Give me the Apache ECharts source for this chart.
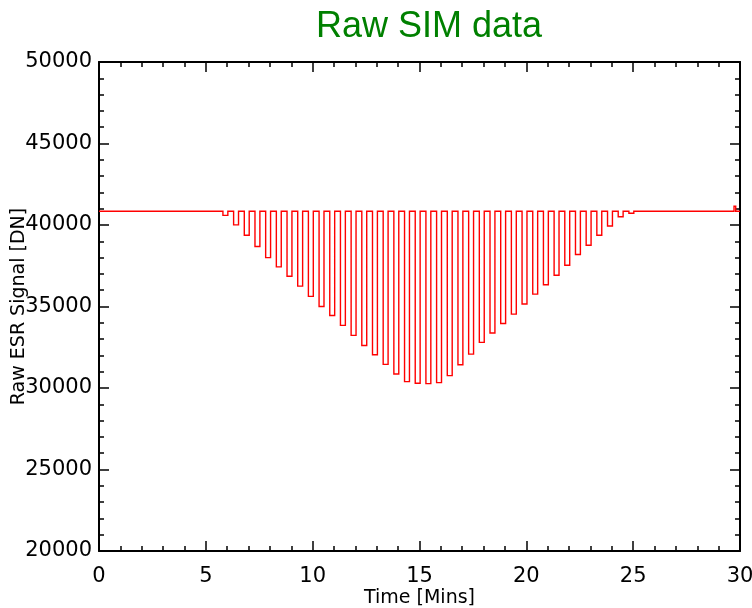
<!DOCTYPE html>
<html>
<head>
<meta charset="utf-8">
<title>Raw SIM data</title>
<script src="https://cdn.jsdelivr.net/npm/echarts@6/dist/echarts.min.js"></script>
<style>
  html, body { margin: 0; padding: 0; background: #ffffff; }
  #chart { width: 752px; height: 608px; }
</style>
</head>
<body>
<div id="chart"></div>
<script>
// Steady ESR signal outside the scan (DN)
const baselineLevel = 40840;

// Start time of each shutter-closed dip (minutes)
const dipStartTimes = [
  5.8, 6.3, 6.8, 7.3, 7.8, 8.3, 8.8, 9.3, 9.8, 10.3,
  10.8, 11.3, 11.8, 12.3, 12.8, 13.3, 13.8, 14.3, 14.8, 15.3,
  15.8, 16.3, 16.8, 17.3, 17.8, 18.3, 18.8, 19.3, 19.8, 20.3,
  20.8, 21.3, 21.8, 22.3, 22.8, 23.3, 23.8, 24.3, 24.8
];

// Signal level reached during each dip (DN)
const dipLevels = [
  40590, 40010, 39370, 38680, 38000, 37430, 36860, 36250, 35620, 35000,
  34450, 33840, 33230, 32610, 32040, 31450, 30860, 30390, 30290, 30270,
  30330, 30760, 31430, 32080, 32800, 33370, 33960, 34530, 35150, 35760,
  36330, 36920, 37530, 38190, 38760, 39370, 39940, 40510, 40720
];

// Length of each dip (minutes)
const dipDuration = 0.23;

// Short upward glitch near the end of the record
const glitchTimes = [29.72, 29.8];
const glitchLevel = 41150;

// Time span of the record (minutes) and signal axis range (DN)
const timeRange = [0, 30];
const signalRange = [20000, 50000];

// Axis tick labels
const xTickLabels = ['0', '5', '10', '15', '20', '25', '30'];
const yTickLabels = ['20000', '25000', '30000', '35000', '40000', '45000', '50000'];

// Assemble the square-wave trace from the dip list
const trace = [[timeRange[0], baselineLevel]];
dipStartTimes.forEach(function (t, i) {
  const v = dipLevels[i];
  trace.push([t, baselineLevel], [t, v], [t + dipDuration, v], [t + dipDuration, baselineLevel]);
});
trace.push([glitchTimes[0], baselineLevel], [glitchTimes[0], glitchLevel],
           [glitchTimes[1], glitchLevel], [glitchTimes[1], baselineLevel]);
trace.push([timeRange[1], baselineLevel]);

const fontFam = 'DejaVu Sans';

function axisParts() {
  return {
    axisLine: { show: true, onZero: false, lineStyle: { color: '#000', width: 2 } },
    axisTick: { show: true, inside: true, length: 10, lineStyle: { color: '#000', width: 1.5 } },
    minorTick: { show: true, splitNumber: 5, length: 5, lineStyle: { color: '#000', width: 1.5 } },
    splitLine: { show: false }
  };
}

function xAxisDef(pos, withLabels) {
  return Object.assign({
    type: 'value', position: pos, min: timeRange[0], max: timeRange[1], interval: 5,
    axisLabel: {
      show: withLabels, color: '#000', fontFamily: fontFam, fontSize: 21, margin: 15,
      formatter: function (val) { return xTickLabels[Math.round((val - timeRange[0]) / 5)]; }
    },
    name: withLabels ? 'Time [Mins]' : '',
    nameLocation: 'middle', nameGap: 38, nameMoveOverlap: false,
    nameTextStyle: { color: '#000', fontFamily: fontFam, fontSize: 19 }
  }, axisParts());
}

function yAxisDef(pos, withLabels) {
  return Object.assign({
    type: 'value', position: pos,
    min: signalRange[0], max: signalRange[1], interval: 5000,
    axisLabel: {
      show: withLabels, color: '#000', fontFamily: fontFam, fontSize: 21, margin: 7,
      formatter: function (val) { return yTickLabels[Math.round((val - signalRange[0]) / 5000)]; }
    },
    name: withLabels ? 'Raw ESR Signal [DN]' : '',
    nameLocation: 'middle', nameGap: 70, nameMoveOverlap: false,
    nameTextStyle: { color: '#000', fontFamily: fontFam, fontSize: 19 }
  }, axisParts());
}

const chart = echarts.init(document.getElementById('chart'), null, { renderer: 'canvas' });
chart.setOption({
  animation: false,
  backgroundColor: '#ffffff',
  title: {
    text: 'Raw SIM data',
    left: 311, top: 4,
    textStyle: { color: '#008000', fontFamily: 'Liberation Sans', fontSize: 36, fontWeight: 'normal' }
  },
  grid: { left: 99, right: 12, top: 62, bottom: 57, containLabel: false, outerBoundsMode: 'none' },
  xAxis: [xAxisDef('bottom', true), xAxisDef('top', false)],
  yAxis: [yAxisDef('left', true), yAxisDef('right', false)],
  series: [{
    // Signal trace drawn as one polyline through the cartesian axes
    type: 'custom',
    coordinateSystem: 'cartesian2d',
    xAxisIndex: 0, yAxisIndex: 0,
    data: [[timeRange[0], baselineLevel]],
    silent: true,
    renderItem: function (params, api) {
      return {
        type: 'polyline',
        shape: { points: trace.map(function (p) { return api.coord(p); }) },
        style: { stroke: '#ff0000', lineWidth: 1.4, fill: null }
      };
    }
  }]
});
</script>
</body>
</html>
